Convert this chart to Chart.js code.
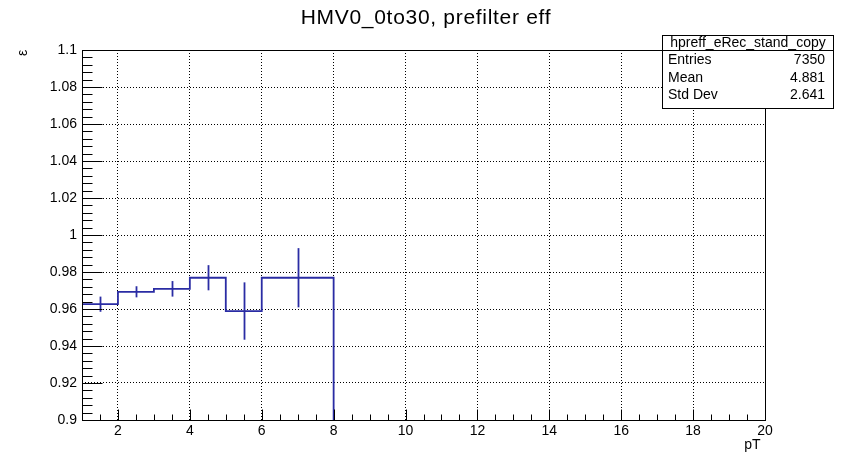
<!DOCTYPE html>
<html><head><meta charset="utf-8">
<script src="https://cdn.jsdelivr.net/npm/chart.js@4/dist/chart.umd.min.js"></script>
<style>html,body{margin:0;padding:0;background:#fff;overflow:hidden}</style>
</head><body>
<canvas id="c" width="844" height="456" style="display:block;width:844px;height:456px"></canvas>
<script>
// ---- data ----
const chartTitle = 'HMV0_0to30, prefilter eff';
const xAxisTitle = 'pT';
const yAxisTitle = 'ε';
const binEdges   = [1, 2, 3, 4, 5, 6, 8, 20];
const effValues  = [0.9626, 0.9693, 0.9709, 0.9769, 0.9589, 0.9769, 0];
const effErrors  = [0.0041, 0.0030, 0.0042, 0.0068, 0.0155, 0.0160, 0];
const xTickValues = [2, 4, 6, 8, 10, 12, 14, 16, 18, 20];
const yTickValues = [0.9, 0.92, 0.94, 0.96, 0.98, 1, 1.02, 1.04, 1.06, 1.08, 1.1];
const statsName   = 'hpreff_eRec_stand_copy';
const statsLabels = ['Entries', 'Mean', 'Std Dev'];
const statsValues = ['7350', '4.881', '2.641'];

// ---- build step points from bins ----
const stepPoints = binEdges.slice(0, -1).map((e, i) => ({x: e, y: effValues[i]}));
stepPoints.push({x: binEdges[binEdges.length - 1], y: effValues[effValues.length - 1]});

const FONT = "'Liberation Sans', Arial, Helvetica, sans-serif";
const LINE_COLOR = '#2a2ca4';

const rootPlugin = {
  id: 'rootStyle',
  afterDatasetsDraw(chart) {
    const ctx = chart.ctx, xs = chart.scales.x, ys = chart.scales.y, a = chart.chartArea;
    ctx.save();
    ctx.beginPath(); ctx.rect(a.left, a.top, a.right - a.left, a.bottom - a.top); ctx.clip();
    ctx.strokeStyle = LINE_COLOR; ctx.lineWidth = 1.8;
    effValues.forEach((v, i) => {
      if (v <= 0) return;
      const cx = Math.round(xs.getPixelForValue((binEdges[i] + binEdges[i + 1]) / 2)) + 0.5;
      ctx.beginPath();
      ctx.moveTo(cx, ys.getPixelForValue(v - effErrors[i]));
      ctx.lineTo(cx, ys.getPixelForValue(v + effErrors[i]));
      ctx.stroke();
    });
    ctx.restore();
  },
  afterDraw(chart) {
    const ctx = chart.ctx, xs = chart.scales.x, ys = chart.scales.y, a = chart.chartArea;
    const L = Math.round(a.left) + 0.5, R = Math.round(a.right) + 0.5;
    const T = Math.round(a.top) + 0.5, B = Math.round(a.bottom) + 0.5;
    ctx.save();
    ctx.strokeStyle = '#000'; ctx.lineWidth = 1;
    ctx.strokeRect(L, T, R - L, B - T);
    ctx.beginPath();
    const yMin = ys.min, yMax = ys.max;
    const yMinorStep = 0.004, xMinorStep = 0.5;
    const ny = Math.round((yMax - yMin) / yMinorStep);
    for (let k = 0; k <= ny; k++) {
      const v = yMin + k * yMinorStep;
      const py = Math.round(ys.getPixelForValue(v)) + 0.5;
      const len = (k % 5 === 0) ? 20 : 10;
      ctx.moveTo(L, py); ctx.lineTo(L + len, py);
    }
    const kx0 = Math.ceil(xs.min / xMinorStep), kx1 = Math.floor(xs.max / xMinorStep);
    for (let k = kx0; k <= kx1; k++) {
      const v = k * xMinorStep;
      const px = Math.round(xs.getPixelForValue(v)) + 0.5;
      const len = (k % 4 === 0) ? 11 : 6;
      ctx.moveTo(px, B); ctx.lineTo(px, B - len);
    }
    ctx.stroke();
    // title
    ctx.fillStyle = '#000';
    ctx.font = '21px ' + FONT;
    try { ctx.letterSpacing = '0.7px'; } catch (e) {}
    ctx.textAlign = 'center'; ctx.textBaseline = 'alphabetic';
    ctx.fillText(chartTitle, 426, 24);
    try { ctx.letterSpacing = '0px'; } catch (e) {}
    // axis titles
    ctx.font = '14px ' + FONT;
    ctx.textAlign = 'right';
    ctx.fillText(xAxisTitle, R - 5, 449);
    ctx.save();
    ctx.translate(23, 53); ctx.rotate(-Math.PI / 2);
    ctx.textAlign = 'center'; ctx.textBaseline = 'middle';
    ctx.fillText(yAxisTitle, 0, 0);
    ctx.restore();
    // stats box
    const bx = 662.5, by = 35.5, bw = 171, bh = 73;
    ctx.fillStyle = '#fff';
    ctx.fillRect(bx, by, bw, bh);
    ctx.strokeStyle = '#000';
    ctx.strokeRect(bx, by, bw, bh);
    ctx.beginPath(); ctx.moveTo(bx, by + 15); ctx.lineTo(bx + bw, by + 15); ctx.stroke();
    ctx.fillStyle = '#000';
    ctx.font = '14px ' + FONT;
    ctx.textBaseline = 'middle';
    ctx.textAlign = 'center';
    ctx.fillText(statsName, bx + bw / 2, by + 8);
    const rowY = [60, 78, 95.5];
    statsLabels.forEach((lab, i) => {
      ctx.textAlign = 'left';
      ctx.fillText(lab, 668, rowY[i]);
      ctx.textAlign = 'right';
      ctx.fillText(statsValues[i], 825, rowY[i]);
    });
    ctx.restore();
  }
};

new Chart(document.getElementById('c'), {
  type: 'line',
  data: {
    datasets: [{
      data: stepPoints,
      stepped: 'before',
      borderColor: LINE_COLOR,
      borderWidth: 1.8,
      pointRadius: 0,
      fill: false
    }]
  },
  options: {
    responsive: false,
    devicePixelRatio: 1,
    animation: false,
    layout: {padding: {left: 0, right: 79, top: 50, bottom: 0}},
    plugins: {legend: {display: false}, title: {display: false}, tooltip: {enabled: false}},
    scales: {
      x: {
        type: 'linear', min: 1, max: 20,
        afterBuildTicks: s => { s.ticks = xTickValues.map(v => ({value: v})); },
        afterFit: s => { s.height = 36; },
        grid: {color: '#000', lineWidth: 1, drawTicks: false},
        border: {display: false, dash: [1, 2]},
        ticks: {font: {family: FONT, size: 14}, color: '#000', padding: 3, maxRotation: 0, autoSkip: false,
                callback: v => String(v)}
      },
      y: {
        type: 'linear', min: 0.9, max: 1.1,
        afterBuildTicks: s => { s.ticks = yTickValues.map(v => ({value: v})); },
        afterFit: s => { s.width = 82; },
        grid: {color: '#000', lineWidth: 1, drawTicks: false},
        border: {display: false, dash: [1, 2]},
        ticks: {font: {family: FONT, size: 14}, color: '#000', padding: 5, autoSkip: false,
                callback: v => String(+Number(v).toFixed(3))}
      }
    }
  },
  plugins: [rootPlugin]
});
</script>
</body></html>
